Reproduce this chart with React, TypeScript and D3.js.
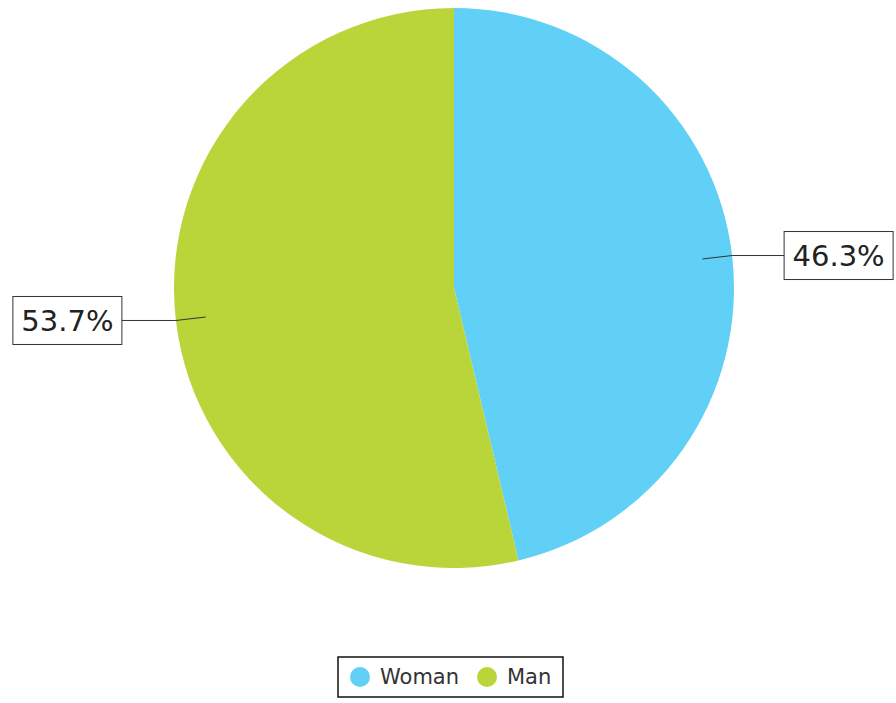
import React from 'react';
import * as d3 from 'd3';

const categories = ['Woman', 'Man'];
const shares = [46.3, 53.7];
const colors = ['#60d0f6', '#b9d53a'];

interface Slice {
  label: string;
  value: number;
  color: string;
}

const slices: Slice[] = categories.map((c, i) => ({ label: c, value: shares[i], color: colors[i] }));

const App: React.FC = () => {
  const width = 896;
  const height = 703;
  const cx = 454;
  const cy = 288;
  const radius = 280;

  const pie = d3.pie<Slice>().value(d => d.value).sort(null);
  const arcs = pie(slices);

  const arcGen = d3.arc<d3.PieArcDatum<Slice>>().innerRadius(0).outerRadius(radius);
  const innerPt = d3.arc<d3.PieArcDatum<Slice>>().innerRadius(250).outerRadius(250);
  const edgePt = d3.arc<d3.PieArcDatum<Slice>>().innerRadius(radius).outerRadius(radius);

  const font = 'Verdana, "DejaVu Sans", sans-serif';
  const boxW = 109;
  const boxH = 48;

  return (
    <svg
      width={width}
      height={height}
      style={{ position: 'absolute', left: 0, top: 0, background: '#fff' }}
    >
      <g transform={`translate(${cx}, ${cy})`}>
        {arcs.map((a, i) => (
          <path key={i} d={arcGen(a) || ''} fill={a.data.color} />
        ))}

        {/* leader lines + boxed labels */}
        {arcs.map((a, i) => {
          const [x0, y0] = innerPt.centroid(a);
          const [x1, y1] = edgePt.centroid(a);
          const right = x1 > 0;
          const x2 = right ? x1 + 52 : x1 - 54;
          const bx = right ? x2 : x2 - boxW;
          return (
            <g key={`l${i}`}>
              <polyline
                points={`${x0},${y0} ${x1},${y1} ${x2},${y1}`}
                fill="none"
                stroke="#333"
                strokeWidth={1}
              />
              <rect
                x={bx}
                y={y1 - boxH / 2}
                width={boxW}
                height={boxH}
                fill="#fff"
                stroke="#333"
                strokeWidth={1}
              />
              <text
                x={bx + boxW / 2}
                y={y1}
                dy="0.36em"
                textAnchor="middle"
                fontFamily={font}
                fontSize={29}
                fill="#222"
              >
                {`${a.data.value.toFixed(1)}%`}
              </text>
            </g>
          );
        })}
      </g>

      {/* legend */}
      <g transform="translate(338, 657)">
        <rect x={0} y={0} width={225} height={40} fill="#fff" stroke="#111" strokeWidth={1.5} />
        {slices.map((s, i) => {
          const ox = i === 0 ? 22 : 149;
          return (
            <g key={s.label} transform={`translate(${ox}, 20)`}>
              <circle r={10} fill={s.color} />
              <text x={20} dy="0.35em" fontFamily={font} fontSize={21} fill="#333">
                {s.label}
              </text>
            </g>
          );
        })}
      </g>
    </svg>
  );
};

export default App;
